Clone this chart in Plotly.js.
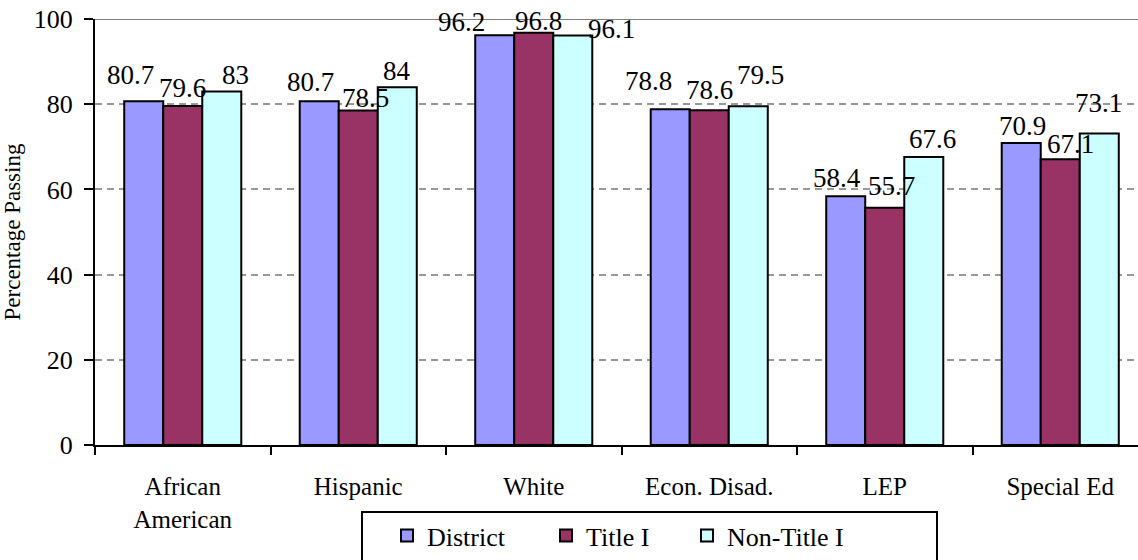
<!DOCTYPE html>
<html>
<head>
<meta charset="utf-8">
<script src="https://cdn.plot.ly/plotly-3.0.1.min.js"></script>
<style>html,body{margin:0;padding:0;background:#fff;}</style>
</head>
<body>
<div id="chart"></div>
<script>
// Student groups along the x axis
const groups = ['African<br>American', 'Hispanic', 'White', 'Econ. Disad.', 'LEP', 'Special Ed'];

// Percentage passing, by group
const district  = [80.7, 80.7, 96.2, 78.8, 58.4, 70.9];
const titleI    = [79.6, 78.5, 96.8, 78.6, 55.7, 67.1];
const nonTitleI = [83, 84, 96.1, 79.5, 67.6, 73.1];

const seriesNames  = ['District', 'Title I', 'Non-Title I'];
const seriesValues = [district, titleI, nonTitleI];
const seriesColors = ['#9999FF', '#993366', '#CCFFFF'];

// Value-label nudges in pixels: [horizontal shift, height above the bar top]
const labelNudges = [
  [[-13, 26], [-9, 19], [-33, 13], [-22, 28], [-9, 18], [1, 17]],
  [[0, 18], [7, 13], [5, 12], [0, 20], [7, 22], [10, 15]],
  [[14, 16], [0, 16], [39, 7], [12, 31], [9, 18], [-1, 31]]
];

// Left edge (px) of each legend entry inside the legend frame
const legendEntryLeft = [387, 546, 687];

const W = 1138, H = 560;
const M = {l: 95, r: 0, t: 19, b: 115};
const BARGAP = 0.333;
const slot = (1 - BARGAP) / seriesNames.length;
const legendIds = ['legend', 'legend2', 'legend3'];

const traces = seriesNames.map((name, k) => ({
  type: 'bar',
  name: name,
  x: groups,
  y: seriesValues[k],
  legend: legendIds[k],
  marker: {color: seriesColors[k], line: {color: '#000', width: 2}},
  hoverinfo: 'skip'
}));

const annotations = [];
seriesValues.forEach((vals, k) => {
  vals.forEach((v, i) => {
    annotations.push({
      x: i + (k - 1) * slot, y: v, xref: 'x', yref: 'y',
      text: String(v), showarrow: false,
      xanchor: 'center', yanchor: 'middle',
      xshift: labelNudges[k][i][0], yshift: labelNudges[k][i][1],
      font: {family: 'Times New Roman', size: 27, color: '#000'}
    });
  });
});

// Legend frame, placed in pixel terms and converted to paper units
const plotW = W - M.l - M.r, plotH = H - M.t - M.b;
const px2x = px => (px - M.l) / plotW;
const px2y = py => (H - M.b - py) / plotH;

const layout = {
  width: W, height: H,
  margin: M,
  paper_bgcolor: '#fff', plot_bgcolor: '#fff',
  barmode: 'group', bargap: BARGAP, bargroupgap: 0,
  showlegend: true,
  xaxis: {
    type: 'category',
    range: [-0.5, -0.5 + plotW / 175.5],
    showline: true, linecolor: '#000', linewidth: 2,
    ticks: 'outside', tickson: 'boundaries', ticklen: 8, tickwidth: 2, tickcolor: '#000',
    showgrid: false, zeroline: false,
    tickfont: {family: 'Times New Roman', size: 25, color: '#000'},
    ticklabelstandoff: 18
  },
  yaxis: {
    range: [0, 100], dtick: 20, tick0: 0,
    showline: true, linecolor: '#000', linewidth: 2,
    ticks: 'outside', ticklen: 9, tickwidth: 2, tickcolor: '#000',
    showgrid: true, gridcolor: '#999999', gridwidth: 2, griddash: '7px,5px',
    zeroline: false,
    tickfont: {family: 'Times New Roman', size: 26, color: '#000'},
    ticklabelstandoff: 6,
    title: {text: 'Percentage Passing', font: {family: 'Times New Roman', size: 23, color: '#000'}, standoff: 8},
    automargin: false
  },
  annotations: annotations,
  shapes: [
    {type: 'line', xref: 'paper', yref: 'y', x0: 0, x1: 1, y0: 100, y1: 100,
     line: {color: '#808080', width: 2}, layer: 'below'},
    {type: 'rect', xref: 'paper', yref: 'paper',
     x0: px2x(362), x1: px2x(937), y0: px2y(512), y1: px2y(600),
     line: {color: '#000', width: 2}, fillcolor: 'rgba(0,0,0,0)', layer: 'above'}
  ]
};

// One legend per series, so each entry sits at its own spot in the frame
legendIds.forEach((id, k) => {
  layout[id] = {
    orientation: 'h', xref: 'container', yref: 'container',
    x: legendEntryLeft[k] / W, xanchor: 'left', y: 1 - 512 / H, yanchor: 'top',
    bgcolor: 'rgba(0,0,0,0)', borderwidth: 0,
    font: {family: 'Times New Roman', size: 26, color: '#000'}
  };
});

Plotly.newPlot('chart', traces, layout, {staticPlot: true});
</script>
</body>
</html>
